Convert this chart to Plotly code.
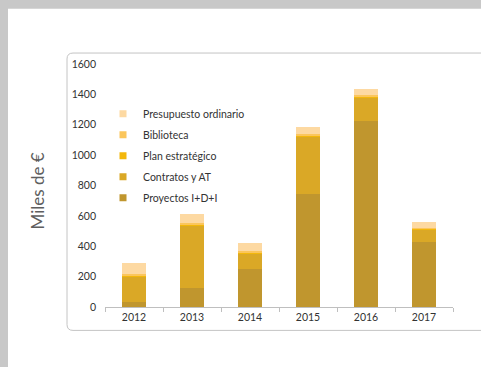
import plotly.graph_objects as go

# Annual budget breakdown (thousands of euros)
years = ["2012", "2013", "2014", "2015", "2016", "2017"]
proyectos = [30, 126, 250, 747, 1227, 429]
contratos = [170, 410, 102, 373, 153, 79]
plan_estrategico = [8, 10, 8, 8, 9, 8]
biblioteca = [12, 10, 7, 11, 7, 7]
presupuesto_ordinario = [73, 56, 55, 46, 39, 37]

series_names = ["Proyectos I+D+I", "Contratos y AT", "Plan estratégico",
                "Biblioteca", "Presupuesto ordinario"]
series_values = [proyectos, contratos, plan_estrategico, biblioteca, presupuesto_ordinario]
series_colors = ["#C0962E", "#DAA826", "#F3B70C", "#FBC65C", "#FDD9A2"]

FONT = "Lato"

fig = go.Figure()
# legend swatches first, top entry = top of the stack
for name, col in reversed(list(zip(series_names, series_colors))):
    fig.add_trace(go.Scatter(
        x=[None], y=[None], mode="markers", name=name, legendgroup=name,
        marker=dict(symbol="square", size=7, color=col),
    ))
# stacked bars, bottom to top
for name, vals, col in zip(series_names, series_values, series_colors):
    fig.add_trace(go.Bar(
        x=years, y=vals, name=name, legendgroup=name, showlegend=False,
        width=0.41, marker=dict(color=col, line=dict(width=0)),
    ))

# plot area geometry in pixels
L, R, T, B = 105, 453, 63.5, 307.5
W, H = R - L, B - T
px = lambda x: (x - L) / W
py = lambda y: (B - y) / H

shapes = [
    # white page over grey surround
    dict(type="rect", xref="paper", yref="paper", layer="below",
         x0=px(8), x1=px(490), y0=py(8), y1=py(375),
         fillcolor="white", line=dict(width=0)),
]
# rounded chart frame
r_x, r_y = 6 / W, 6 / H
x0, x1, y0, y1 = px(67), px(495), py(52.5), py(331)
path = (f"M {x1},{y0} L {x0 + r_x},{y0} Q {x0},{y0} {x0},{y0 - r_y} "
        f"L {x0},{y1 + r_y} Q {x0},{y1} {x0 + r_x},{y1} L {x1},{y1}")
shapes.append(dict(type="path", xref="paper", yref="paper", layer="below",
                   path=path, line=dict(color="#C4C4C4", width=1)))

fig.update_layout(
    width=481, height=367,
    margin=dict(l=L, r=481 - R, t=T, b=367 - B, pad=0),
    paper_bgcolor="#C8C8C8", plot_bgcolor="rgba(0,0,0,0)",
    barmode="stack", bargap=0.59,
    font=dict(family=FONT, size=10.5, color="#333333"),
    shapes=shapes,
    showlegend=True,
    legend=dict(
        x=px(103), xanchor="left", y=py(99), yanchor="top",
        traceorder="grouped", tracegroupgap=2,
        bgcolor="rgba(0,0,0,0)", borderwidth=0,
        font=dict(family=FONT, size=10.5, color="#333333"),
        itemwidth=30,
    ),
    annotations=[dict(
        text="Miles de €", xref="paper", yref="paper",
        x=px(37), y=py(191.5), xanchor="center", yanchor="middle",
        showarrow=False, textangle=-90,
        font=dict(family=FONT, size=17, color="#5E5E5E"),
    )],
)
fig.update_xaxes(
    type="category", showline=True, linecolor="#BFBFBF", linewidth=1,
    ticks="outside", tickson="boundaries", ticklen=4, tickcolor="#BFBFBF",
    showgrid=False, zeroline=False,
)
fig.update_yaxes(
    range=[0, 1600], tickvals=list(range(0, 1601, 200)),
    showgrid=False, zeroline=False, showline=False, ticks="",
    ticklabelstandoff=8,
)

fig.write_html("out.html")
